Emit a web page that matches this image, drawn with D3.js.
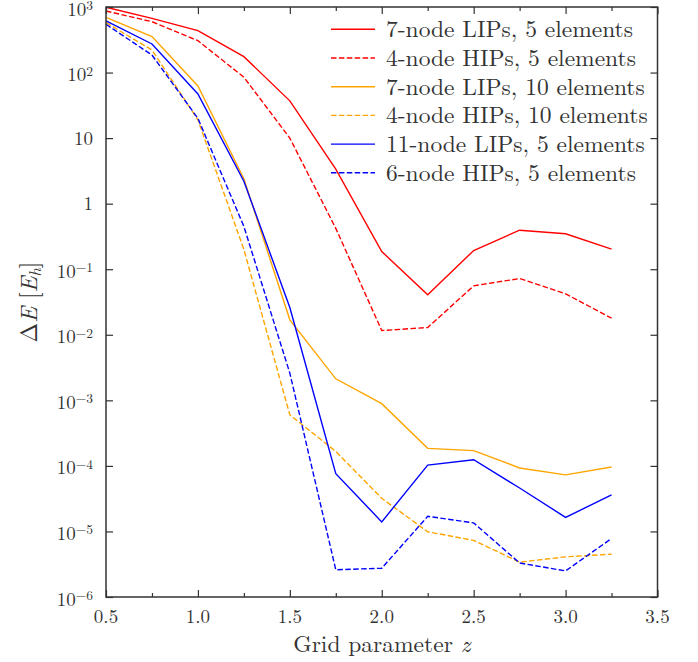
<!DOCTYPE html>
<html>
<head>
<meta charset="utf-8">
<script src="https://cdn.jsdelivr.net/npm/d3@7"></script>
<style>
  html, body { margin: 0; padding: 0; background: #fff; }
  svg { display: block; }
</style>
</head>
<body>
<script>
// Grid parameter values
const zGrid = [0.5, 0.75, 1.0, 1.25, 1.5, 1.75, 2.0, 2.25, 2.5, 2.75, 3.0, 3.25];

// Energy error ΔE (Hartree) for each discretisation
const lip7el5  = [990, 672, 435, 175, 37, 3.36, 0.186, 0.0407, 0.193, 0.394, 0.347, 0.202];
const hip4el5  = [869, 597, 306, 85, 10, 0.42, 0.0116, 0.0129, 0.0558, 0.0721, 0.0422, 0.0179];
const lip7el10 = [697, 353, 62.5, 2.4, 0.0169, 2.13e-3, 8.9e-4, 1.85e-4, 1.71e-4, 9.3e-5, 7.3e-5, 9.6e-5];
const hip4el10 = [577, 221, 19, 0.2, 6.0e-4, 1.66e-4, 3.2e-5, 9.9e-6, 7.3e-6, 3.4e-6, 4.1e-6, 4.5e-6];
const lip11el5 = [612, 273, 47.2, 2.2, 0.026, 7.6e-5, 1.40e-5, 1.03e-4, 1.24e-4, 4.6e-5, 1.64e-5, 3.6e-5];
const hip6el5  = [545, 185, 20, 0.45, 2.6e-3, 2.6e-6, 2.75e-6, 1.70e-5, 1.35e-5, 3.3e-6, 2.5e-6, 7.8e-6];

const seriesNames  = ["7-node LIPs, 5 elements", "4-node HIPs, 5 elements",
                      "7-node LIPs, 10 elements", "4-node HIPs, 10 elements",
                      "11-node LIPs, 5 elements", "6-node HIPs, 5 elements"];
const seriesValues = [lip7el5, hip4el5, lip7el10, hip4el10, lip11el5, hip6el5];
const seriesColors = ["#ff0000", "#ff0000", "#ffa500", "#ffa500", "#0000ff", "#0000ff"];
const seriesDashed = [false, true, false, true, false, true];

// Axis ticks
const xTicks = [0.5, 1.0, 1.5, 2.0, 2.5, 3.0, 3.5];
const xTickLabels = ["0.5", "1.0", "1.5", "2.0", "2.5", "3.0", "3.5"];
const xMinorTicks = [0.75, 1.25, 1.75, 2.25, 2.75, 3.25];
const yTicks = [1e3, 1e2, 1e1, 1, 1e-1, 1e-2, 1e-3, 1e-4, 1e-5, 1e-6];
const yTickLabels = ["10^3", "10^2", "10", "1", "10^-1", "10^-2", "10^-3", "10^-4", "10^-5", "10^-6"];

const W = 698, H = 662;
const margin = { left: 106, right: 40.5, top: 7, bottom: 65 };
const iw = W - margin.left - margin.right;
const ih = H - margin.top - margin.bottom;

const svg = d3.select("body").append("svg").attr("width", W).attr("height", H)
  .style("font-family", '"Latin Modern Roman", "Liberation Serif", serif');
const g = svg.append("g").attr("transform", `translate(${margin.left},${margin.top})`);

const x = d3.scaleLinear().domain([0.5, 3.5]).range([0, iw]);
const y = d3.scaleLog().domain([1e-6, 1e3]).range([ih, 0]);

const frameColor = "#333";
const textColor = "#333";
const textSize = 23.5;

// Data lines
const line = d3.line().x(d => x(d[0])).y(d => y(d[1]));
g.append("g").selectAll("path")
  .data(seriesValues.map((vals, i) => ({ i, pts: zGrid.map((z, k) => [z, vals[k]]) })))
  .join("path")
  .attr("d", d => line(d.pts))
  .attr("fill", "none")
  .attr("stroke", d => seriesColors[d.i])
  .attr("stroke-width", 1.4)
  .attr("stroke-dasharray", d => seriesDashed[d.i] ? "5.5,2.4" : null);

// Inward ticks on all four sides
function styleAxis(sel) {
  sel.select(".domain").remove();
  sel.selectAll(".tick line").attr("stroke", frameColor).attr("stroke-width", 1.2);
  sel.selectAll(".tick text").remove();
}
g.append("g").attr("transform", `translate(0,${ih})`)
  .call(d3.axisBottom(x).tickValues(xTicks).tickSize(-7)).call(styleAxis);
g.append("g").attr("transform", `translate(0,${ih})`)
  .call(d3.axisBottom(x).tickValues(xMinorTicks).tickSize(-4)).call(styleAxis);
g.append("g")
  .call(d3.axisTop(x).tickValues(xTicks).tickSize(-7)).call(styleAxis);
g.append("g")
  .call(d3.axisTop(x).tickValues(xMinorTicks).tickSize(-4)).call(styleAxis);
g.append("g")
  .call(d3.axisLeft(y).tickValues(yTicks).tickSize(-7)).call(styleAxis);
g.append("g").attr("transform", `translate(${iw},0)`)
  .call(d3.axisRight(y).tickValues(yTicks).tickSize(-7)).call(styleAxis);

// Frame
g.append("rect").attr("x", 0).attr("y", 0).attr("width", iw).attr("height", ih)
  .attr("fill", "none").attr("stroke", frameColor).attr("stroke-width", 1.5);

// X tick labels
g.append("g").selectAll("text").data(xTicks).join("text")
  .attr("x", d => x(d)).attr("y", ih + 26)
  .attr("text-anchor", "middle").attr("font-size", 19)
  .attr("fill", textColor)
  .text((d, i) => xTickLabels[i]);

// Y tick labels with superscript exponents
const yl = g.append("g");
yTicks.forEach((v, i) => {
  const [base, exp] = yTickLabels[i].split("^");
  const t = yl.append("text")
    .attr("x", -13).attr("y", y(v) + (exp ? 8.5 : 6.5))
    .attr("text-anchor", "end").attr("font-size", 19)
    .attr("fill", textColor);
  t.append("tspan").text(base);
  if (exp) {
    t.append("tspan").attr("dy", -5.5).attr("font-size", 13.5)
      .text(exp.replace("-", "\u2212"));
  }
});

// Axis titles
const xt = svg.append("text")
  .attr("x", margin.left + iw / 2).attr("y", H - 10)
  .attr("text-anchor", "middle").attr("font-size", textSize)
  .attr("fill", textColor);
xt.append("tspan").text("Grid parameter ");
xt.append("tspan").attr("font-style", "italic").text("z");

const yt = svg.append("text")
  .attr("transform", `translate(37,${margin.top + ih / 2}) rotate(-90)`)
  .attr("text-anchor", "middle").attr("font-size", textSize)
  .attr("fill", textColor);
yt.append("tspan").text("\u0394");
yt.append("tspan").attr("font-style", "italic").text("E");
yt.append("tspan").text(" [");
yt.append("tspan").attr("font-style", "italic").text("E");
yt.append("tspan").attr("font-style", "italic").attr("font-size", 16.5).attr("dy", 4).text("h");
yt.append("tspan").attr("dy", -4).text("]");

// Legend
const lg = g.append("g").attr("transform", `translate(${331 - margin.left},${29.3 - margin.top})`);
seriesNames.forEach((name, i) => {
  const row = lg.append("g").attr("transform", `translate(0,${i * 28.7})`);
  row.append("line").attr("x1", 0).attr("x2", 44).attr("y1", 0).attr("y2", 0)
    .attr("stroke", seriesColors[i]).attr("stroke-width", 1.4)
    .attr("stroke-dasharray", seriesDashed[i] ? "5.5,2.4" : null);
  row.append("text").attr("x", 55).attr("y", 8)
    .attr("font-size", textSize).attr("fill", textColor)
    .text(name);
});
</script>
</body>
</html>
